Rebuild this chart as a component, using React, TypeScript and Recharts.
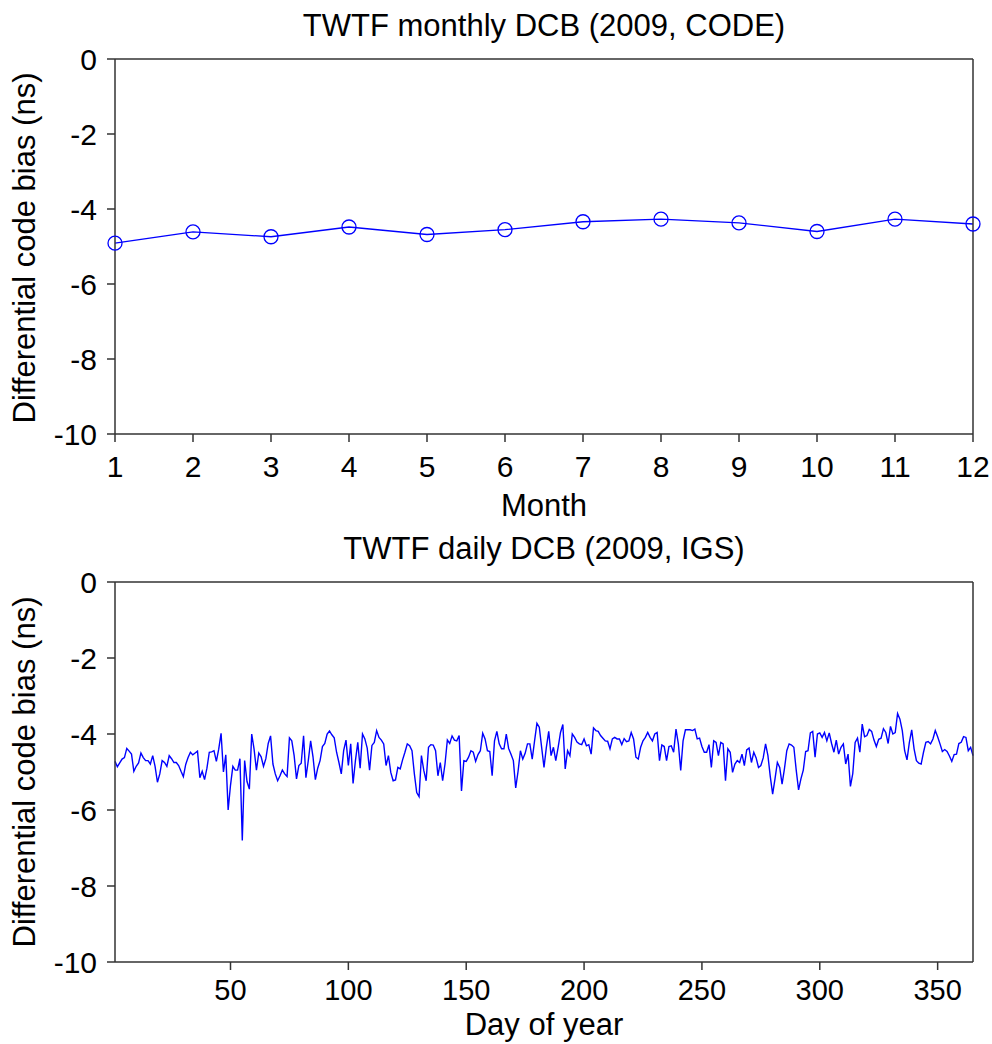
import { LineChart, Line, XAxis, YAxis } from "recharts"

const FONT = "Arial, 'Liberation Sans', sans-serif"
const AXIS = "#333"
const BLUE = "#0000ff"

const months = [1, 2, 3, 4, 5, 6, 7, 8, 9, 10, 11, 12]
const monthlyDcb = [-4.91, -4.61, -4.74, -4.48, -4.68, -4.55, -4.34, -4.27, -4.37, -4.6, -4.27, -4.4]

// IGS daily DCB, day 1..365
const dailyDcb = [
  -4.72, -4.86, -4.76, -4.66, -4.62, -4.38, -4.45, -4.53, -4.98, -4.85,
  -4.76, -4.5, -4.62, -4.7, -4.7, -4.79, -4.57, -4.85, -5.27, -5.05,
  -4.7, -4.75, -4.85, -4.57, -4.65, -4.75, -4.75, -4.83, -4.98, -5.12,
  -4.8, -4.62, -4.48, -4.55, -4.5, -4.45, -5.15, -4.98, -5.2, -4.9,
  -4.48, -4.47, -4.44, -4.72, -4.4, -3.98, -5.0, -4.55, -6.0, -5.35,
  -4.85, -4.95, -4.95, -4.65, -6.8, -4.7, -5.25, -5.45, -4.0, -4.4,
  -4.95, -4.5, -4.6, -4.85, -4.65, -4.25, -4.05, -4.79, -5.05, -5.23,
  -5.1, -4.95, -5.05, -5.12, -4.1, -4.18, -4.57, -5.18, -4.83, -4.77,
  -4.05, -5.15, -4.7, -4.18, -4.6, -5.2, -4.9, -4.7, -4.33, -4.25,
  -4.0, -3.92, -4.02, -4.1, -4.48, -4.75, -5.05, -4.44, -4.16, -4.83,
  -4.26, -5.3, -4.7, -4.22, -4.9, -4.0, -4.13, -4.37, -4.95, -4.3,
  -4.22, -3.91, -4.09, -4.16, -4.26, -4.83, -4.57, -5.01, -5.23, -5.21,
  -4.88, -4.92, -4.68, -4.48, -4.26, -4.31, -4.44, -5.05, -5.54, -5.65,
  -4.57, -4.96, -5.23, -4.35, -4.28, -4.29, -4.44, -5.1, -4.75, -5.23,
  -4.79, -4.16, -4.25, -4.05, -4.16, -4.18, -4.04, -5.5, -4.7, -4.72,
  -4.61, -4.44, -4.48, -4.72, -4.54, -4.44, -3.98, -4.13, -4.44, -4.46,
  -5.1, -4.18, -3.93, -4.26, -4.39, -4.39, -4.0, -4.38, -4.53, -4.7,
  -5.42, -4.98, -4.44, -4.66, -4.51, -4.26, -4.26, -4.66, -4.18, -3.72,
  -3.82, -4.35, -4.88, -4.35, -3.93, -4.57, -4.35, -4.7, -4.35, -3.96,
  -3.75, -4.92, -4.44, -4.57, -4.0, -4.09, -4.21, -4.26, -4.28, -4.13,
  -4.31, -4.28, -4.53, -3.84, -3.91, -3.93, -4.04, -4.11, -4.18, -4.19,
  -4.39, -4.13, -4.09, -4.13, -4.13, -4.28, -4.12, -4.2, -4.18, -3.96,
  -4.13, -4.61, -4.66, -4.35, -4.18, -4.09, -3.96, -4.09, -4.18, -4.0,
  -3.96, -4.7, -4.29, -4.33, -4.7, -4.33, -4.31, -4.48, -3.87, -4.26,
  -4.96, -4.18, -3.89, -3.89, -3.89, -3.91, -3.87, -4.13, -4.11, -4.33,
  -4.48, -4.48, -4.28, -4.88, -4.18, -4.22, -4.57, -4.22, -4.26, -5.23,
  -4.39, -4.48, -5.01, -4.79, -4.7, -4.75, -4.53, -4.83, -4.42, -4.37,
  -4.75, -4.48, -4.63, -4.88, -4.83, -4.63, -4.26, -4.57, -5.12, -5.58,
  -5.18, -4.75, -4.88, -5.32, -4.92, -4.44, -4.26, -4.29, -4.35, -4.95,
  -5.47, -5.18, -4.95, -4.46, -4.44, -3.97, -3.93, -4.61, -4.0, -3.97,
  -4.09, -3.96, -4.18, -3.97, -4.25, -4.48, -4.16, -4.53, -4.35, -4.26,
  -4.79, -4.53, -5.38, -5.04, -4.22, -4.11, -4.48, -3.74, -4.07, -4.04,
  -3.88, -3.93, -4.16, -4.33, -4.14, -4.11, -3.86, -3.96, -4.25, -3.8,
  -4.0, -3.96, -3.46, -3.61, -3.91, -4.44, -4.68, -4.22, -3.89, -4.39,
  -4.7, -4.77, -4.79, -4.48, -4.22, -4.2, -4.26, -4.13, -3.91, -4.07,
  -4.26, -4.46, -4.41, -4.46, -4.58, -4.72, -4.54, -4.53, -4.25, -4.22,
  -4.07, -4.09, -4.44, -4.35, -4.57,
]

const yTicks = [0, -2, -4, -6, -8, -10]
const dayTicks = [50, 100, 150, 200, 250, 300, 350]

const monthlyData = months.map((m, i) => ({ month: m, dcb: monthlyDcb[i] }))
const dailyData = dailyDcb.map((v, i) => ({ day: i + 1, dcb: v }))

function PlotText({ tx, ty, text, rotate = 0, size = 31 }: any) {
  return (
    <text
      x={tx}
      y={ty}
      textAnchor="middle"
      fontSize={size}
      fontFamily={FONT}
      fill="#000"
      transform={rotate ? `rotate(${rotate} ${tx} ${ty})` : undefined}
    >
      {text}
    </text>
  )
}

const axisProps = {
  stroke: AXIS,
  strokeWidth: 1.5,
  tickSize: 8,
  tickLine: { stroke: AXIS, strokeWidth: 1.5 },
}
const tickStyle = { fill: "#000", fontSize: 30, fontFamily: FONT }

export default function App() {
  return (
    <div style={{ position: "absolute", left: 0, top: 0, width: 992, height: 1044, background: "#fff" }}>
      <LineChart width={992} height={530} data={monthlyData} margin={{ top: 49, right: 9, bottom: 36, left: 0 }}>
        <XAxis
          dataKey="month"
          type="number"
          domain={[1, 12]}
          ticks={months}
          height={60}
          tickMargin={14}
          tick={tickStyle}
          {...axisProps}
          label={<PlotText tx={544} ty={516} text="Month" />}
        />
        <XAxis
          xAxisId="top"
          orientation="top"
          dataKey="month"
          type="number"
          domain={[1, 12]}
          ticks={months}
          height={10}
          tick={false}
          {...axisProps}
          label={<PlotText tx={544} ty={36} text="TWTF monthly DCB (2009, CODE)" />}
        />
        <YAxis
          type="number"
          domain={[-10, 0]}
          ticks={yTicks}
          width={115}
          tickMargin={10}
          tick={tickStyle}
          {...axisProps}
          label={<PlotText tx={35} ty={248} rotate={-90} text="Differential code bias (ns)" />}
        />
        <YAxis
          yAxisId="right"
          orientation="right"
          type="number"
          domain={[-10, 0]}
          ticks={yTicks}
          width={10}
          tick={false}
          {...axisProps}
        />
        <Line
          dataKey="dcb"
          stroke={BLUE}
          strokeWidth={1.3}
          dot={{ r: 7, stroke: BLUE, strokeWidth: 1.3, fill: "none" }}
          isAnimationActive={false}
        />
      </LineChart>
      <LineChart width={992} height={514} data={dailyData} margin={{ top: 42, right: 9, bottom: 22, left: 0 }}>
        <XAxis
          dataKey="day"
          type="number"
          domain={[1, 365]}
          ticks={dayTicks}
          height={60}
          tickMargin={9}
          tick={{ ...tickStyle, fontSize: 29, fontFamily: "'Liberation Sans Narrow', " + FONT }}
          {...axisProps}
          label={<PlotText tx={544} ty={505} text="Day of year" />}
        />
        <XAxis
          xAxisId="top"
          orientation="top"
          dataKey="day"
          type="number"
          domain={[1, 365]}
          ticks={dayTicks}
          height={10}
          tick={false}
          {...axisProps}
          label={<PlotText tx={544} ty={29} text="TWTF daily DCB (2009, IGS)" />}
        />
        <YAxis
          type="number"
          domain={[-10, 0]}
          ticks={yTicks}
          width={115}
          tickMargin={10}
          tick={tickStyle}
          {...axisProps}
          label={<PlotText tx={35} ty={242} rotate={-90} text="Differential code bias (ns)" />}
        />
        <YAxis
          yAxisId="right"
          orientation="right"
          type="number"
          domain={[-10, 0]}
          ticks={yTicks}
          width={10}
          tick={false}
          {...axisProps}
        />
        <Line dataKey="dcb" stroke={BLUE} strokeWidth={1.4} dot={false} isAnimationActive={false} />
      </LineChart>
    </div>
  )
}
